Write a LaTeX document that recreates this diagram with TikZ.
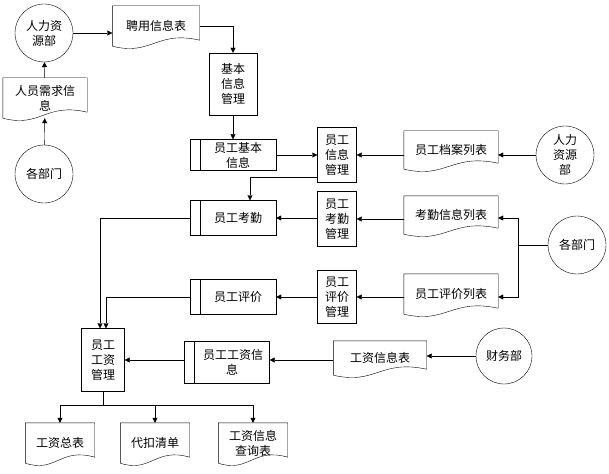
\documentclass[tikz,border=0pt]{standalone}
\usepackage{fontspec}
\setmainfont{Noto Sans CJK SC}
\usetikzlibrary{calc,arrows.meta}

\tikzset{
    box/.style={draw,align=center,inner sep=1pt,font=\fontsize{12}{15}\selectfont},
    proc/.style={box,append after command={\pgfextra{\draw
        ($(\tikzlastnode.north west)+(10,0)$) -- ($(\tikzlastnode.south west)+(10,0)$);}}},
    doc/.style={align=center,inner sep=1pt,font=\fontsize{12}{15}\selectfont,
        append after command={\pgfextra{\draw
        (\tikzlastnode.south west) -- (\tikzlastnode.north west) -- (\tikzlastnode.north east)
        -- ($(\tikzlastnode.south east)+(0,-6)$)
        .. controls ($(\tikzlastnode.south)+(0,-16)$) and ($(\tikzlastnode.south)+(-4,10)$)
        .. (\tikzlastnode.south west);}}},
    ent/.style={draw,circle,minimum size=58,inner sep=0pt,align=center,font=\fontsize{12}{15}\selectfont},
    flow/.style={-{Triangle[length=5pt,width=5pt]}}
}

\begin{document}
\begin{tikzpicture}[x=1pt,y=-1pt]
    \useasboundingbox (0,0) rectangle (609,473);  %page frame

    % left column
    \node[ent] (hrA) at (44,33) {人力资\\源部};
    \node[doc,minimum width=84,minimum height=40] (need) at (45,98) {人员需求信\\息};
    \node[ent] (deptA) at (44,174) {各部门};

    % top
    \node[doc,minimum width=87,minimum height=40] (hire) at (156,26) {聘用信息表};
    \node[box,minimum width=48,minimum height=62] (basic) at (233,84) {基本\\信息\\管理};

    % row 1
    \node[proc,minimum width=86,minimum height=31,text width=66] (info) at (233,155) {\hspace*{10pt}员工基本\\\hspace*{10pt}信息};
    \node[box,minimum width=39,minimum height=55] (infoM) at (337,155) {员工\\信息\\管理};
    \node[doc,minimum width=94,minimum height=38] (file) at (451,150) {员工档案列表};
    \node[ent] (hrB) at (565,155) {人力\\资源\\部};

    % row 2
    \node[proc,minimum width=86,minimum height=35] (att) at (233,218) {\hspace*{10pt}员工考勤};
    \node[box,minimum width=39,minimum height=55] (attM) at (337,219) {员工\\考勤\\管理};
    \node[doc,minimum width=94,minimum height=38] (attL) at (451,215) {考勤信息列表};
    \node[ent] (deptB) at (577,245) {各部门};

    % row 3
    \node[proc,minimum width=86,minimum height=35] (eva) at (233,297) {\hspace*{10pt}员工评价};
    \node[box,minimum width=39,minimum height=53] (evaM) at (337,297) {员工\\评价\\管理};
    \node[doc,minimum width=94,minimum height=40] (evaL) at (451,294) {员工评价列表};

    % salary
    \node[box,minimum width=43,minimum height=63] (sal) at (103,360) {员工\\工资\\管理};
    \node[proc,minimum width=85,minimum height=42,text width=68] (salI) at (227,362) {\hspace*{10pt}员工工资信\\\hspace*{10pt}息};
    \node[doc,minimum width=93,minimum height=34] (salT) at (380,358) {工资信息表};
    \node[ent,minimum size=56] (fin) at (504,356) {财务部};

    % outputs
    \node[doc,minimum width=69,minimum height=40] (sum) at (60,443) {工资总表};
    \node[doc,minimum width=69,minimum height=40] (ded) at (155,443) {代扣清单};
    \node[doc,minimum width=69,minimum height=40] (qry) at (253,443) {工资信息\\查询表};

    % connectors
    \draw[flow] (deptA) -- (need);
    \draw[flow] (need) -- (hrA);
    \draw[flow] (hrA) -- (hire.west |- hrA);
    \draw[flow] (hire.east) -| (basic.north);
    \draw[flow] (basic) -- (info);
    \draw[flow] (info.east) -- (infoM.west |- info.east);
    \draw[flow] (file.west |- infoM) -- (infoM);
    \draw[flow] (hrB) -- (file.east |- hrB);
    \draw[flow] ($(infoM.west)+(0,22)$) -| (att.north -| 250,0);
    \draw[flow] (attM.west |- att) -- (att);
    \draw[flow] (attL.west |- attM) -- (attM);
    \coordinate (split) at (518,245);
    \draw (deptB) -- (split);
    \draw[flow] (split) |- (attL.east |- att);
    \draw[flow] (split) |- (evaL.east |- eva);
    \draw[flow] (evaM.west |- eva) -- (eva);
    \draw[flow] (evaL.west |- eva) -- (evaM.east |- eva);
    \draw[flow] (att.west) -| ($(sal.north)+(-3,0)$);
    \draw[flow] (eva.west) -| ($(sal.north)+(3,0)$);
    \draw[flow] (salI.west |- sal) -- (sal);
    \draw[flow] (salT.west |- sal) -- (salI.east |- sal);
    \draw[flow] (fin) -- (salT.east |- fin);
    \coordinate (fork) at (103,405);
    \draw (sal) -- (fork);
    \draw[flow] (fork) -| (sum.north);
    \draw[flow] (fork) -| (ded.north);
    \draw[flow] (fork) -| (qry.north);
\end{tikzpicture}
\end{document}
